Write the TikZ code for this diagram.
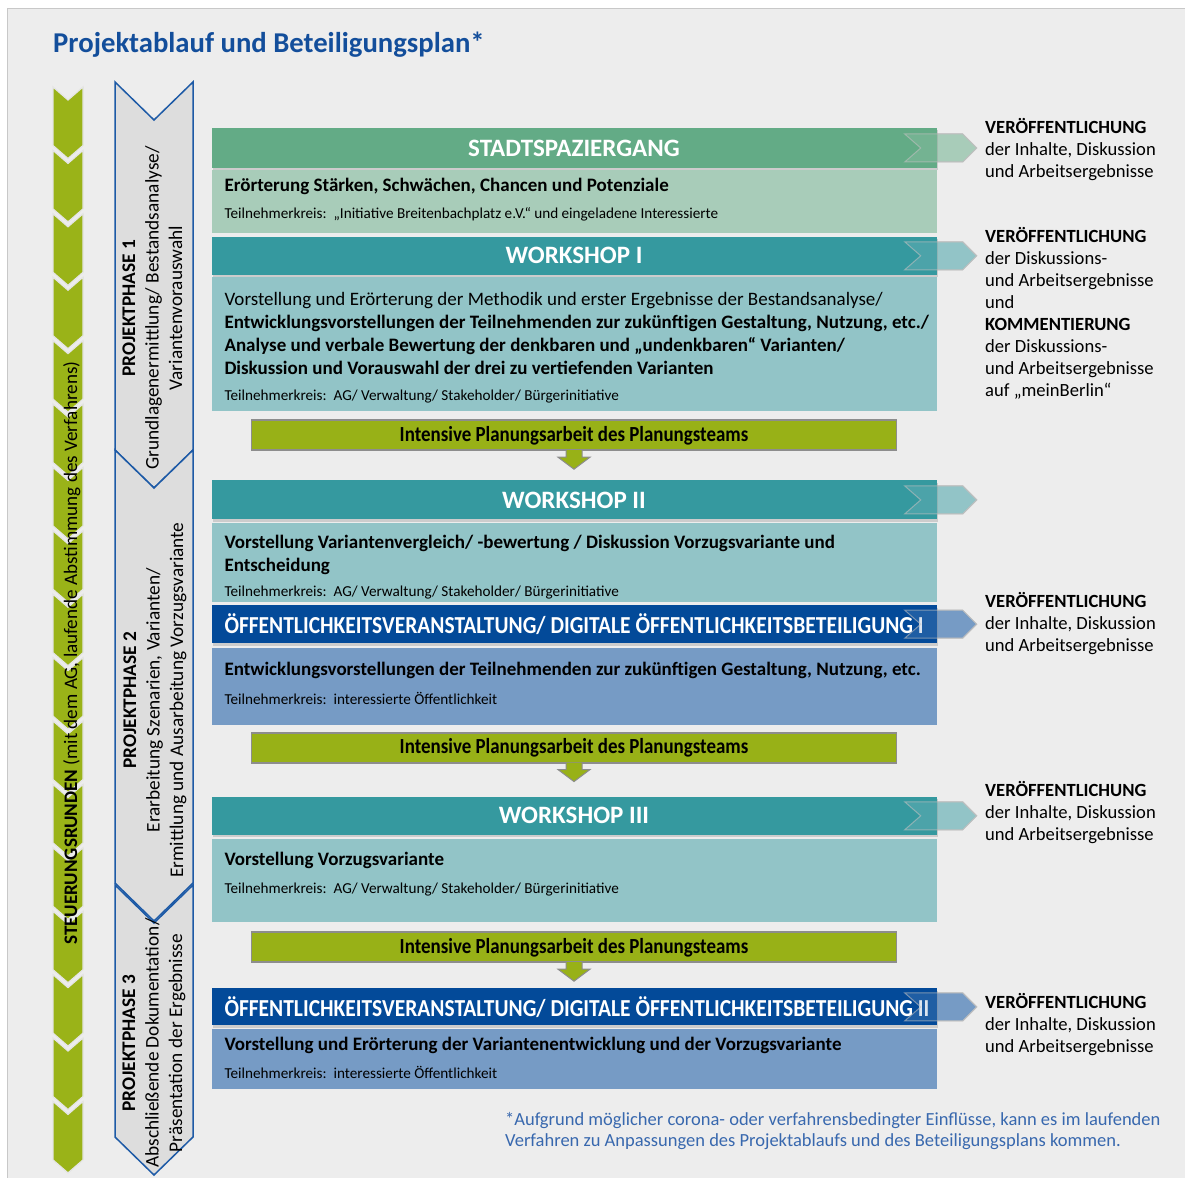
\documentclass[tikz,border=0pt]{standalone}
\usepackage{fontspec}
\setmainfont{Carlito}
\newfontfamily\condfont[FakeStretch=0.88]{Carlito}
\usetikzlibrary{positioning,calc,shadows}

\pgfdeclarelayer{bottom}
\pgfdeclarelayer{back}
\pgfsetlayers{bottom,back,main}

\definecolor{panel}{HTML}{EDEDED}
\definecolor{panelline}{HTML}{C8C8C8}
\definecolor{titleblue}{HTML}{134E9B}
\definecolor{footblue}{HTML}{3868AE}
\definecolor{stripgreen}{HTML}{9AB318}
\definecolor{phasefill}{HTML}{DDDDDD}
\definecolor{phaseline}{HTML}{1D5AA6}
\definecolor{grnH}{HTML}{63AB86}
\definecolor{grnB}{HTML}{A8CCB9}
\definecolor{tealH}{HTML}{35999F}
\definecolor{tealB}{HTML}{92C4C7}
\definecolor{blueH}{HTML}{034A99}
\definecolor{blueB}{HTML}{769BC5}
\definecolor{olive}{HTML}{98B117}
\definecolor{oliveline}{HTML}{8D8D8D}

\newcommand{\fsz}[2]{\fontsize{#1}{#2}\selectfont}
\newcommand{\kreisfont}{\fsz{15.2}{17}\mdseries}

\begin{document}
\begin{tikzpicture}[%
        x=1pt, y=-1pt,
        header/.style={%
          rectangle,
          minimum width=725pt,
          minimum height=38pt,
          inner sep=0pt,
          text=white,
          font=\fsz{25}{28}\bfseries,
          drop shadow={shadow xshift=1.5pt, shadow yshift=-2.5pt, opacity=0.3}
        },
        body/.style={rectangle, minimum width=725pt, inner sep=0pt},
        bodytext/.style={anchor=base west, inner sep=0pt, font=\fsz{19}{23}},
        planbox/.style={%
          rectangle, fill=olive, draw=oliveline, line width=1.8pt,
          minimum width=645pt, minimum height=30pt, inner sep=0pt,
          font=\condfont\fsz{21.5}{24}\bfseries
        },
        downarrow/.style={fill=olive, draw=oliveline, line width=1pt},
        rarrow/.style={draw=black!25, line width=1pt},
        sidetext/.style={anchor=base west, inner sep=0pt, font=\fsz{18.6}{22}},
        phase/.style={fill=phasefill, draw=phaseline, line width=1.5pt},
        phasetext/.style={rotate=90, inner sep=0pt, font=\fsz{19.3}{23.5}},
        chev/.style={fill=stripgreen, draw=white!80!gray, line width=1.2pt}
      ]
      \useasboundingbox (0,0) rectangle (1185,1177);
      \begin{pgfonlayer}{bottom}
        \fill[white] (0,0) rectangle (1185,1177);
        \draw[fill=panel, draw=panelline] (7.5,8.5) rectangle (1195,1190);
      \end{pgfonlayer}

      \node[anchor=base west, inner sep=0pt, text=titleblue, font=\fsz{28.7}{32}\bfseries] (title) at (53,53) {Projektablauf und Beteiligungsplan*};

      % Steuerungsrunden
      \foreach \i in {0,...,16}
        \draw[chev] (53,{87+\i*63.4}) -- ++(15,13) -- ++(15,-13) -- ++(0,58.5) -- ++(-15,13) -- ++(-15,-13) -- cycle;
      \node[rotate=90, anchor=base west, inner sep=0pt, font=\fsz{19.1}{22}] (steuer) at (77,945) {\textbf{STEUERUNGSRUNDEN} (mit dem AG, laufende Abstimmung des Verfahrens)};

      % Projektphasen
      \draw[phase] (115,82) -- (154,120) -- (193,82) -- (193,450) -- (154,488) -- (115,450) -- cycle;
      \draw[phase] (115,450) -- (154,488) -- (193,450) -- (193,883) -- (154,921) -- (115,883) -- cycle;
      \draw[phase] (115,885) -- (154,923) -- (193,885) -- (193,1137) -- (154,1175) -- (115,1137) -- cycle;
      \node[phasetext] (ph1) at (154,308) {\begin{tabular}{@{}c@{}}\textbf{PROJEKTPHASE 1}\\ Grundlagenermittlung/ Bestandsanalyse/\\ Variantenvorauswahl\end{tabular}};
      \node[phasetext] (ph2) at (155,700) {\begin{tabular}{@{}c@{}}\textbf{PROJEKTPHASE 2}\\ Erarbeitung Szenarien, Varianten/\\ Ermittlung und Ausarbeitung Vorzugsvariante\end{tabular}};
      \node[phasetext] (ph3) at (154,1043) {\begin{tabular}{@{}c@{}}\textbf{PROJEKTPHASE 3}\\ Abschließende Dokumentation/\\ Präsentation der Ergebnisse\end{tabular}};

      % Ablauf
      \node[header, fill=grnH, minimum height=40pt] (h1) at (574,148) {STADTSPAZIERGANG};
      \node[body, fill=grnB, minimum height=63pt, below=2pt of h1] (b1) {};
      \node[header, fill=tealH, below=3pt of b1] (h2) {WORKSHOP I};
      \node[body, fill=tealB, minimum height=134pt, below=2pt of h2] (b2) {};
      \node[planbox, below=8pt of b2] (p1) {Intensive Planungsarbeit des Planungsteams};
      \node[header, fill=tealH, minimum height=39pt, below=29pt of p1] (h3) {WORKSHOP II};
      \node[body, fill=tealB, minimum height=79pt, below=3pt of h3] (b3) {};
      \node[header, fill=blueH, inner xsep=13pt, below=3pt of b3] (h4) {\makebox[699pt][l]{\condfont\fsz{24.4}{26}ÖFFENTLICHKEITSVERANSTALTUNG/ DIGITALE ÖFFENTLICHKEITSBETEILIGUNG I}};
      \node[body, fill=blueB, minimum height=77pt, below=4pt of h4] (b4) {};
      \node[planbox, below=7pt of b4] (p2) {Intensive Planungsarbeit des Planungsteams};
      \node[header, fill=tealH, below=33pt of p2] (h5) {WORKSHOP III};
      \node[body, fill=tealB, minimum height=83pt, below=4pt of h5] (b5) {};
      \node[planbox, below=9pt of b5] (p3) {Intensive Planungsarbeit des Planungsteams};
      \node[header, fill=blueH, minimum height=37pt, inner xsep=13pt, below=25pt of p3] (h6) {\makebox[699pt][l]{\condfont\fsz{24.4}{26}ÖFFENTLICHKEITSVERANSTALTUNG/ DIGITALE ÖFFENTLICHKEITSBETEILIGUNG II}};
      \node[body, fill=blueB, minimum height=60pt, below=3pt of h6] (b6) {};

      \node[bodytext] (t1) at ([xshift=13pt, yshift=-21pt]b1.north west) {\begin{tabular}[t]{@{}l@{}}\bfseries Erörterung Stärken, Schwächen, Chancen und Potenziale\\[4pt] \kreisfont Teilnehmerkreis:\ \ „Initiative Breitenbachplatz e.V.“ und eingeladene Interessierte\end{tabular}};
      \node[bodytext] (t2) at ([xshift=13pt, yshift=-28pt]b2.north west) {\begin{tabular}[t]{@{}l@{}}Vorstellung und Erörterung der Methodik und erster Ergebnisse der Bestandsanalyse/\\ \bfseries Entwicklungsvorstellungen der Teilnehmenden zur zukünftigen Gestaltung, Nutzung, etc./\\ \bfseries Analyse und verbale Bewertung der denkbaren und „undenkbaren“ Varianten/\\ \bfseries Diskussion und Vorauswahl der drei zu vertiefenden Varianten\\[3pt] \kreisfont Teilnehmerkreis:\ \ AG/ Verwaltung/ Stakeholder/ Bürgerinitiative\end{tabular}};
      \node[bodytext] (t3) at ([xshift=13pt, yshift=-26pt]b3.north west) {\begin{tabular}[t]{@{}l@{}}\bfseries Vorstellung Variantenvergleich/ -bewertung / Diskussion Vorzugsvariante und\\ \bfseries Entscheidung\\[2pt] \kreisfont Teilnehmerkreis:\ \ AG/ Verwaltung/ Stakeholder/ Bürgerinitiative\end{tabular}};
      \node[bodytext] (t4) at ([xshift=13pt, yshift=-28pt]b4.north west) {\begin{tabular}[t]{@{}l@{}}\bfseries Entwicklungsvorstellungen der Teilnehmenden zur zukünftigen Gestaltung, Nutzung, etc.\\[6pt] \kreisfont Teilnehmerkreis:\ \ interessierte Öffentlichkeit\end{tabular}};
      \node[bodytext] (t5) at ([xshift=13pt, yshift=-26pt]b5.north west) {\begin{tabular}[t]{@{}l@{}}\bfseries Vorstellung Vorzugsvariante\\[5pt] \kreisfont Teilnehmerkreis:\ \ AG/ Verwaltung/ Stakeholder/ Bürgerinitiative\end{tabular}};
      \node[bodytext] (t6) at ([xshift=13pt, yshift=-22pt]b6.north west) {\begin{tabular}[t]{@{}l@{}}\bfseries Vorstellung und Erörterung der Variantenentwicklung und der Vorzugsvariante\\[5pt] \kreisfont Teilnehmerkreis:\ \ interessierte Öffentlichkeit\end{tabular}};

      % Pfeile
      \foreach \p in {p1,p2,p3}
        \draw[downarrow] ($(\p.south)+(-8,-1)$) -- ++(0,7) -- ++(-8,0) -- ++(16,12) -- ++(16,-12) -- ++(-8,0) -- ++(0,-7);
      \begin{pgfonlayer}{back}
        \foreach \h/\c in {h1/grnB, h2/tealB, h3/tealB, h4/blueB, h5/tealB, h6/blueB}
          \draw[rarrow, fill=\c] ($(\h.east)+(-32,-14)$) -- ++(58,0) -- ++(14,14) -- ++(-14,14) -- ++(-58,0) -- ++(16,-14) -- cycle;
      \end{pgfonlayer}
      \foreach \h/\c in {h1/grnB, h2/tealB, h3/tealB, h4/blueB, h5/tealB, h6/blueB}
        \draw[rarrow, fill=\c, fill opacity=0.25, draw opacity=0.6] ($(\h.east)+(-32,-14)$) -- ++(58,0) -- ++(14,14) -- ++(-14,14) -- ++(-58,0) -- ++(16,-14) -- cycle;

      % Veroeffentlichung
      \node[sidetext] (r1) at (985,134) {\begin{tabular}[t]{@{}l@{}}\bfseries VERÖFFENTLICHUNG\\ der Inhalte, Diskussion\\ und Arbeitsergebnisse\end{tabular}};
      \node[sidetext] (r2) at (985,242) {\begin{tabular}[t]{@{}l@{}}\bfseries VERÖFFENTLICHUNG\\ der Diskussions-\\ und Arbeitsergebnisse\\ und\\ \bfseries KOMMENTIERUNG\\ der Diskussions-\\ und Arbeitsergebnisse\\ auf „meinBerlin“\end{tabular}};
      \node[sidetext] (r3) at (985,607) {\begin{tabular}[t]{@{}l@{}}\bfseries VERÖFFENTLICHUNG\\ der Inhalte, Diskussion\\ und Arbeitsergebnisse\end{tabular}};
      \node[sidetext] (r4) at (985,796) {\begin{tabular}[t]{@{}l@{}}\bfseries VERÖFFENTLICHUNG\\ der Inhalte, Diskussion\\ und Arbeitsergebnisse\end{tabular}};
      \node[sidetext] (r5) at (985,1008) {\begin{tabular}[t]{@{}l@{}}\bfseries VERÖFFENTLICHUNG\\ der Inhalte, Diskussion\\ und Arbeitsergebnisse\end{tabular}};

      \node[anchor=base west, inner sep=0pt, text=footblue, font=\fsz{18.5}{21}] (foot) at (505,1125) {\begin{tabular}[t]{@{}l@{}}*Aufgrund möglicher corona- oder verfahrensbedingter Einflüsse, kann es im laufenden\\ Verfahren zu Anpassungen des Projektablaufs und des Beteiligungsplans kommen.\end{tabular}};
  \end{tikzpicture}
\end{document}
